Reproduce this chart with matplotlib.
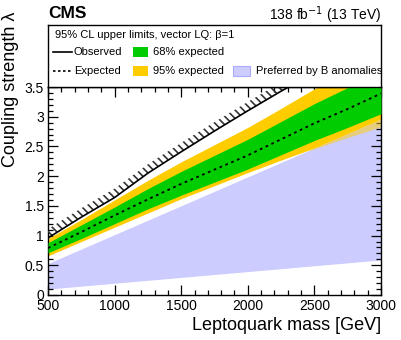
#!/usr/bin/env python3
import numpy as np
import matplotlib.pyplot as plt
from matplotlib.lines import Line2D
from matplotlib.patches import Rectangle

plt.rcParams['font.family'] = ['Liberation Sans', 'DejaVu Sans']
plt.rcParams['hatch.linewidth'] = 1.2

# leptoquark mass points (GeV)
mass = [500, 750, 1000, 1250, 1500, 1750, 2000, 2250, 2500, 2750, 3000]
observed = [0.96, 1.31, 1.64, 2.05, 2.41, 2.76, 3.10, 3.43, 3.74, 4.05, 4.35]
expected = [0.79, 1.06, 1.34, 1.61, 1.87, 2.11, 2.35, 2.62, 2.89, 3.13, 3.39]
exp68_hi = [0.88, 1.18, 1.48, 1.79, 2.08, 2.35, 2.62, 2.92, 3.22, 3.49, 3.76]
exp68_lo = [0.71, 0.95, 1.20, 1.45, 1.68, 1.90, 2.12, 2.36, 2.60, 2.82, 3.05]
exp95_hi = [0.95, 1.27, 1.60, 1.93, 2.24, 2.53, 2.82, 3.14, 3.47, 3.76, 4.06]
exp95_lo = [0.66, 0.90, 1.14, 1.38, 1.62, 1.84, 2.06, 2.27, 2.46, 2.65, 2.83]

# region preferred by B anomalies
banom_mass = [500, 3000]
banom_lo = [0.10, 0.59]
banom_hi = [0.53, 2.96]

GREEN = '#00cc00'
YELLOW = '#ffcc00'
BLUE = '#ccccff'


def main():
    fig = plt.figure(figsize=(4.02, 3.40), dpi=100)
    ax = fig.add_axes([48 / 402, 1 - 295 / 340, 333 / 402, 208 / 340])

    m = np.array(mass, dtype=float)
    blue_hi = np.interp(m, banom_mass, banom_hi)
    blue_lo = np.interp(m, banom_mass, banom_lo)
    y_lo = np.array(exp95_lo)
    y_hi = np.array(exp95_hi)

    ax.fill_between(m, blue_lo, blue_hi, color=BLUE, lw=0, zorder=1)
    # yellow band: opaque above the blue region, see-through where they overlap
    ax.fill_between(m, np.maximum(y_lo, blue_hi), y_hi, color=YELLOW, lw=0, zorder=2)
    ax.fill_between(m, y_lo, blue_hi, where=y_lo < blue_hi, interpolate=True,
                    color=YELLOW, alpha=0.5, lw=0, zorder=2)
    ax.fill_between(m, exp68_lo, exp68_hi, color=GREEN, lw=0, zorder=3)
    ax.plot(m, expected, color='black', ls=(0, (1.5, 2)), lw=1.3, zorder=4)

    obs = np.array(observed)
    ax.fill_between(m, obs, obs + 0.15, facecolor='none', edgecolor='#333333',
                    hatch='\\\\\\\\', lw=0, zorder=4)
    ax.plot(m, obs, color='black', lw=1.2, zorder=5)

    ax.set_xlim(500, 3000)
    ax.set_ylim(0, 3.5)
    ax.set_xticks(np.arange(500, 3001, 500))
    ax.set_xticks(np.arange(500, 3001, 100), minor=True)
    ax.set_yticks(np.arange(0, 3.51, 0.5))
    ax.set_yticks(np.arange(0, 3.51, 0.1), minor=True)
    ax.set_yticklabels(['0', '0.5', '1', '1.5', '2', '2.5', '3', '3.5'])
    ax.tick_params(which='both', direction='in', top=True, right=True,
                   labelsize=10, width=0.9)
    ax.tick_params(which='major', length=7, pad=3)
    ax.tick_params(which='minor', length=3.5)
    for s in ax.spines.values():
        s.set_linewidth(1.0)

    # legend box above the plot
    lax = fig.add_axes([48 / 402, 1 - 87 / 340, 333 / 402, 62 / 340])
    lax.set_xlim(0, 333)
    lax.set_ylim(62, 0)
    lax.set_xticks([])
    lax.set_yticks([])
    for s in lax.spines.values():
        s.set_linewidth(1.0)
    fs = 8
    lax.text(7, 9.5, '95% CL upper limits, vector LQ: β=1', fontsize=fs, va='center')
    lax.add_line(Line2D([5, 24], [27, 27], color='black', lw=1.2))
    lax.text(26, 27, 'Observed', fontsize=fs, va='center')
    lax.add_line(Line2D([5, 24], [45.5, 45.5], color='black', lw=1.2, ls=(0, (1.5, 1.5))))
    lax.text(26, 45.5, 'Expected', fontsize=fs, va='center')
    lax.add_patch(Rectangle((85, 22), 15, 10, color=GREEN, lw=0))
    lax.text(105, 27, '68% expected', fontsize=fs, va='center')
    lax.add_patch(Rectangle((85, 40.5), 15, 10, color=YELLOW, lw=0))
    lax.text(105, 45.5, '95% expected', fontsize=fs, va='center')
    lax.add_patch(Rectangle((185, 40.5), 17, 10, facecolor=BLUE, edgecolor='#aaaaff', lw=0.8))
    lax.text(208, 45.5, 'Preferred by B anomalies', fontsize=fs, va='center')

    fig.text(48 / 402, 1 - 14 / 340, 'CMS', fontsize=12.5, fontweight='bold',
             ha='left', va='center')
    fig.text(381 / 402, 1 - 15 / 340, r'138 fb$^{-1}$ (13 TeV)', fontsize=10,
             ha='right', va='center')
    fig.text(381 / 402, 1 - 325 / 340, 'Leptoquark mass [GeV]', fontsize=13,
             ha='right', va='center')
    fig.text(11 / 402, 1 - 12 / 340, 'Coupling strength λ', fontsize=13,
             rotation=90, ha='center', va='top')

    fig.savefig('out.png', dpi=100)


if __name__ == "__main__":
    main()
